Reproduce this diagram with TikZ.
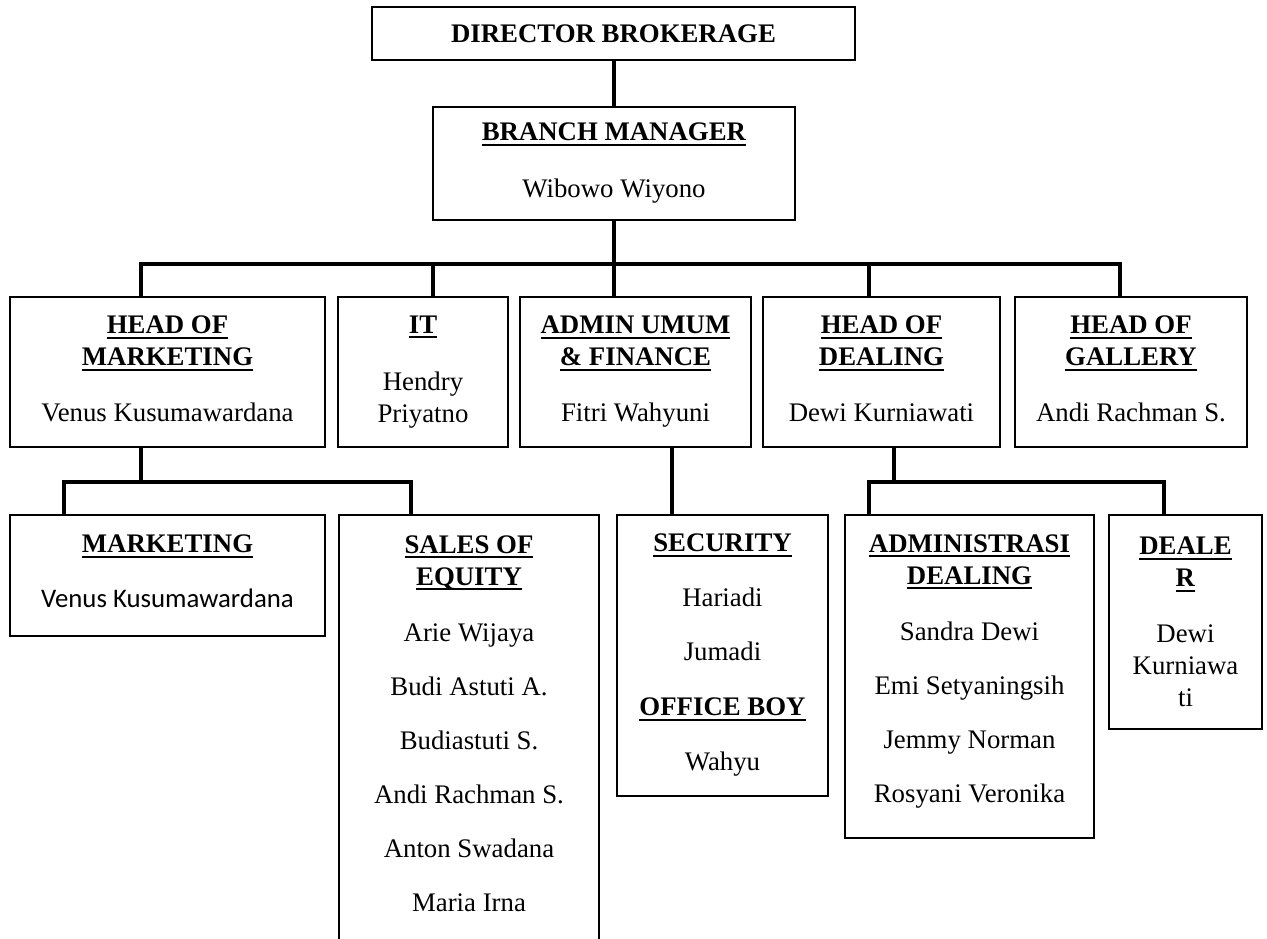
\documentclass[tikz,border=0pt]{standalone}
\usepackage{fontspec}
\setmainfont{Liberation Serif}
\newfontfamily\calibrifont{Carlito}
\newsavebox{\jbox}
\newcommand{\jabatan}[1]{\sbox{\jbox}{\textbf{#1}}\rlap{\vrule width\wd\jbox height -3pt depth 5pt}\usebox{\jbox}}

\begin{document}
\begin{tikzpicture}[x=1pt,y=1pt,
	box/.style={draw,line width=2pt,align=center,inner sep=0pt,font=\fontsize{26.8}{32}\selectfont},
	link/.style={line width=4pt}]
	\useasboundingbox (0,0) rectangle (1267,-939);
	\clip (0,0) rectangle (1267,-939);

	% draw top of the chart
	\node (dir) at (613.5,-33.5) [box,minimum width=483pt,minimum height=53pt] {\textbf{DIRECTOR BROKERAGE}};
	\node (bm) at (614,-163.5) [box,minimum width=362pt,minimum height=113pt] {\jabatan{BRANCH MANAGER}\\[25pt]Wibowo Wiyono};

	% draw first row of heads
	\node (hm) at (167.5,-372) [box,minimum width=315pt,minimum height=150pt] {\jabatan{HEAD OF}\\\jabatan{MARKETING}\\[24pt]Venus Kusumawardana\\[-26pt]\mbox{}};
	\node (it) at (423,-372) [box,minimum width=170pt,minimum height=150pt] {\jabatan{IT}\\[25pt]Hendry\\Priyatno};
	\node (adm) at (635.5,-372) [box,minimum width=231pt,minimum height=150pt] {\jabatan{ADMIN UMUM}\\\jabatan{\& FINANCE}\\[24pt]Fitri Wahyuni};
	\node (hod) at (881.5,-372) [box,minimum width=237pt,minimum height=150pt] {\jabatan{HEAD OF}\\\jabatan{DEALING}\\[24pt]Dewi Kurniawati\\[-26pt]\mbox{}};
	\node (hog) at (1131,-372) [box,minimum width=232pt,minimum height=150pt] {\jabatan{HEAD OF}\\\jabatan{GALLERY}\\[24pt]Andi Rachman S.\\[-26pt]\mbox{}};

	% draw second row of staff
	\node (mkt) at (167.5,-575.5) [box,minimum width=315pt,minimum height=121pt] {\jabatan{MARKETING}\\[23pt]{\calibrifont Venus Kusumawardana}\\[-24pt]\mbox{}};
	\node (sal) at (469,-730) [box,minimum width=260pt,minimum height=430pt] {\jabatan{SALES OF}\\\jabatan{EQUITY}\\[24pt]Arie Wijaya\\[22pt]Budi Astuti A.\\[22pt]Budiastuti S.\\[22pt]Andi Rachman S.\\[22pt]Anton Swadana\\[22pt]Maria Irna\\[-19pt]\mbox{}};
	\node (sec) at (722.5,-655.5) [box,minimum width=211pt,minimum height=281pt] {\jabatan{SECURITY}\\[23pt]Hariadi\\[22pt]Jumadi\\[23pt]\jabatan{OFFICE BOY}\\[23pt]Wahyu};
	\node (add) at (969.5,-676.5) [box,minimum width=249pt,minimum height=323pt] {\jabatan{ADMINISTRASI}\\\jabatan{DEALING}\\[24pt]Sandra Dewi\\[22pt]Emi Setyaningsih\\[22pt]Jemmy Norman\\[22pt]Rosyani Veronika\\[-16pt]\mbox{}};
	\node (dlr) at (1185.5,-622) [box,minimum width=153pt,minimum height=214pt] {\jabatan{DEALE}\\\jabatan{R}\\[24pt]Dewi\\Kurniawa\\ti};

	% bus ends
	\coordinate (busL) at (141,-264);
	\coordinate (busR) at (1120,-264);
	\coordinate (mkL) at (64,-482);
	\coordinate (mkR) at (411,-482);
	\coordinate (dlL) at (869,-482);
	\coordinate (dlR) at (1164,-482);

	% draw lines from the top
	\draw[link] (bm.north) -- (bm.north |- dir.south);
	\draw[link] (bm.south) -- (bm.south |- adm.north);
	\draw[link] (hm.north -| busL) -- (busL) -- (busR) -- (hog.north -| busR);
	\draw[link] ([xshift=10pt]it.north) -- ([xshift=10pt]it.north |- busL);
	\draw[link] ([xshift=-12.5pt]hod.north) -- ([xshift=-12.5pt]hod.north |- busL);

	% draw lines down to the staff
	\draw[link] (hm.south -| busL) -- (busL |- mkL);
	\draw[link] (mkt.north -| mkL) -- (mkL) -- (mkR) -- (sal.north -| mkR);
	\draw[link] ([xshift=36.5pt]adm.south) -- ([xshift=36.5pt]adm.south |- sec.north);
	\draw[link] ([xshift=12.5pt]hod.south) -- ([xshift=12.5pt]hod.south |- dlL);
	\draw[link] (add.north -| dlL) -- (dlL) -- (dlR) -- (dlr.north -| dlR);
\end{tikzpicture}
\end{document}
